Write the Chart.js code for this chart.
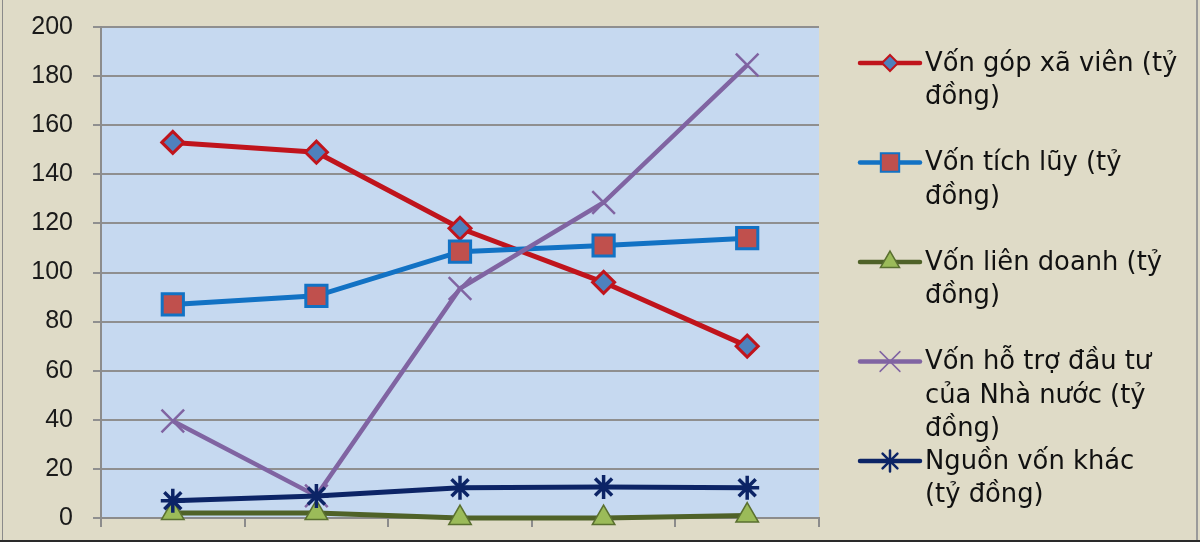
<!DOCTYPE html>
<html>
<head>
<meta charset="utf-8">
<script src="https://cdn.jsdelivr.net/npm/chart.js@4/dist/chart.umd.min.js"></script>
<style>
    html, body { margin: 0; padding: 0; background: #ffffff; }
    #frame {
        position: absolute; left: 0; top: 0;
        width: 1200px; height: 542px;
        background: #dfdbc7;
        border-bottom: 2px solid #2a2a2a;
        box-sizing: border-box;
    }
    #frame:before {
        content: ""; position: absolute; left: 2px; top: 0; bottom: 0;
        border-left: 1px solid #8a8a8a;
    }
    #frame:after {
        content: ""; position: absolute; left: 1196px; top: 0; bottom: 0;
        border-left: 2px solid #9a9a9a;
    }
    #box { position: absolute; left: 0; top: 0; width: 1200px; height: 541px; }
</style>
</head>
<body>
<div id="frame"></div>
<div id="box"><canvas id="capitalChart"></canvas></div>
<script>
// du lieu (doc tu hinh)
const categories = ["", "", "", "", ""];
const seriesNames = [
    "Vốn góp xã viên (tỷ\nđồng)",
    "Vốn tích lũy (tỷ\nđồng)",
    "Vốn liên doanh (tỷ\nđồng)",
    "Vốn hỗ trợ đầu tư\ncủa Nhà nước (tỷ\nđồng)",
    "Nguồn vốn khác\n(tỷ đồng)"
];
const vonGopXaVien = [153, 149, 118, 96, 70];
const vonTichLuy = [87, 90.5, 108.5, 111, 114];
const vonLienDoanh = [2, 2, 0, 0, 1];
const vonHoTroNhaNuoc = [39.5, 9, 93.5, 128.5, 184.5];
const nguonVonKhac = [7, 9, 12.3, 12.6, 12.3];
const yTicks = [0, 20, 40, 60, 80, 100, 120, 140, 160, 180, 200];

const seriesData = [vonGopXaVien, vonTichLuy, vonLienDoanh, vonHoTroNhaNuoc, nguonVonKhac];
// lr = taille du symbole dans la legende
const seriesStyle = [
    {line: "#c0141c", fill: "#4f81bd", edge: "#c0141c", shape: "rectRot", r: 11, bw: 3, w: 5, lr: 8},
    {line: "#1272c4", fill: "#c0504d", edge: "#1272c4", shape: "rect", r: 15, bw: 3, w: 5, lr: 13},
    {line: "#4f6228", fill: "#9bbb59", edge: "#5a7030", shape: "triangle", r: 13, bw: 1.5, w: 5, lr: 11},
    {line: "#8064a2", fill: "#8064a2", edge: "#8064a2", shape: "crossRot", r: 16, bw: 2.5, w: 4.5, lr: 14},
    {line: "#0c2466", fill: "#0c2466", edge: "#0c2466", shape: "star", r: 12, bw: 3.5, w: 5, lr: 10.5},
];

// fond bleu de la zone de trace
const plotBackground = {
    id: "plotBackground",
    beforeDraw(chart) {
        const a = chart.chartArea;
        const ctx = chart.ctx;
        ctx.save();
        ctx.fillStyle = "#c6d9f0";
        ctx.fillRect(a.left, a.top, a.right - a.left, a.bottom - a.top);
        ctx.restore();
    }
};

// legende a droite, texte sur plusieurs lignes
const sideLegend = {
    id: "sideLegend",
    afterDraw(chart) {
        const ctx = chart.ctx;
        const x0 = 860, x1 = 920, tx = 925;
        const firstY = 63, step = 99.5, lineH = 33.5;
        ctx.save();
        chart.data.datasets.forEach((ds, i) => {
            const y = firstY + i * step;
            ctx.strokeStyle = ds.borderColor;
            ctx.lineWidth = 4.5;
            ctx.lineCap = "round";
            ctx.beginPath();
            ctx.moveTo(x0, y);
            ctx.lineTo(x1, y);
            ctx.stroke();

            ctx.fillStyle = ds.pointBackgroundColor;
            ctx.strokeStyle = ds.pointBorderColor;
            ctx.lineWidth = Math.max(1.5, ds.pointBorderWidth - 1);
            Chart.helpers.drawPoint(ctx, {
                pointStyle: ds.pointStyle,
                radius: seriesStyle[i].lr,
                rotation: 0,
                borderWidth: ctx.lineWidth
            }, (x0 + x1) / 2, y);

            ctx.fillStyle = "#111111";
            ctx.font = "25.8px 'DejaVu Sans'";
            ctx.textAlign = "left";
            ctx.textBaseline = "middle";
            ds.label.split("\n").forEach((t, k) => {
                ctx.fillText(t, tx, y + 1 + k * lineH);
            });
        });
        ctx.restore();
    }
};

const datasets = seriesData.map((vals, i) => ({
    label: seriesNames[i],
    data: vals,
    borderColor: seriesStyle[i].line,
    borderWidth: seriesStyle[i].w,
    pointStyle: seriesStyle[i].shape,
    pointRadius: seriesStyle[i].r,
    pointHoverRadius: seriesStyle[i].r,
    pointBackgroundColor: seriesStyle[i].fill,
    pointBorderColor: seriesStyle[i].edge,
    pointBorderWidth: seriesStyle[i].bw,
    tension: 0,
    fill: false,
    clip: false,
    order: seriesData.length - i
}));

new Chart(document.getElementById("capitalChart"), {
    type: "line",
    data: {labels: categories, datasets: datasets},
    options: {
        responsive: true,
        maintainAspectRatio: false,
        animation: false,
        layout: {padding: {left: 0, right: 381, top: 27, bottom: 0}},
        plugins: {
            legend: {display: false},
            tooltip: {enabled: false}
        },
        scales: {
            x: {
                offset: true,
                afterFit: (s) => { s.height = 23; s.paddingLeft = 0; s.paddingRight = 0; },
                grid: {
                    offset: true,
                    drawOnChartArea: false,
                    color: "#8c8c8c",
                    lineWidth: 2,
                    tickLength: 9
                },
                border: {color: "#8c8c8c", width: 2},
                ticks: {display: false}
            },
            y: {
                min: 0,
                max: 200,
                // largeur fixe, pas de marge auto en haut / en bas
                afterFit: (s) => { s.width = 101; s.paddingTop = 0; s.paddingBottom = 0; },
                afterBuildTicks: (s) => { s.ticks = yTicks.map(v => ({value: v})); },
                grid: {color: "#8f8f8f", lineWidth: 2, tickLength: 8},
                border: {color: "#8c8c8c", width: 2},
                ticks: {
                    padding: 20,
                    color: "#1a1a1a",
                    font: {family: "'Liberation Sans'", size: 25}
                }
            }
        }
    },
    plugins: [plotBackground, sideLegend]
});
</script>
</body>
</html>
